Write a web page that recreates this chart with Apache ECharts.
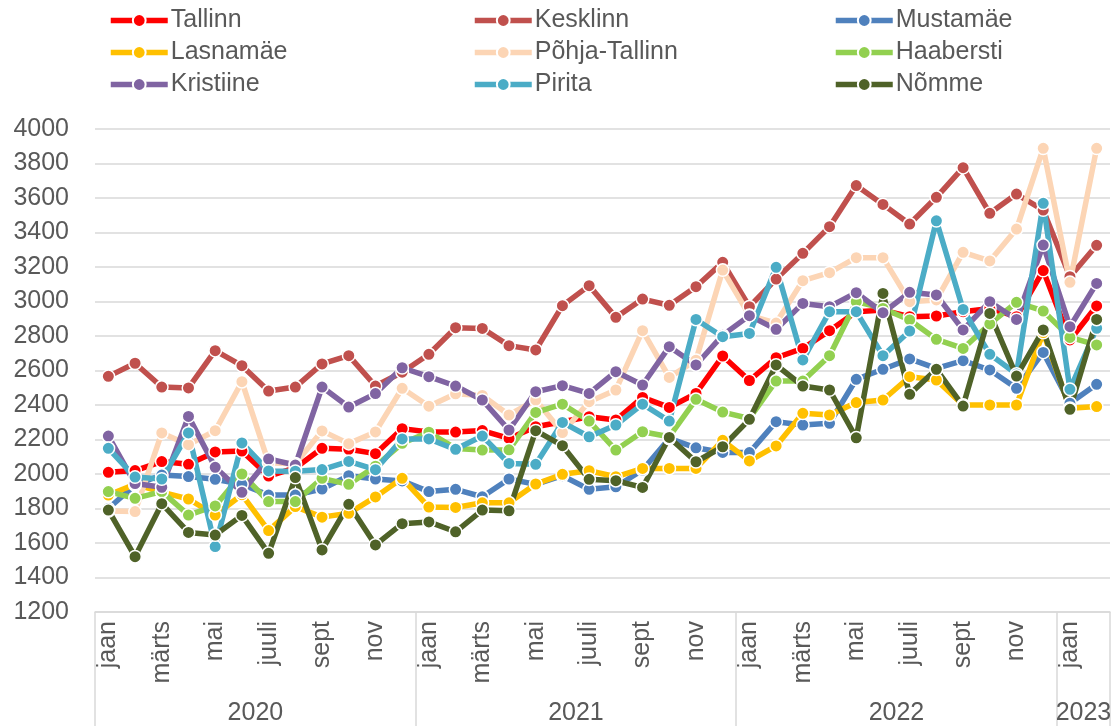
<!DOCTYPE html>
<html>
<head>
<meta charset="utf-8">
<script src="https://cdn.jsdelivr.net/npm/echarts@6/dist/echarts.min.js"></script>
<style>
  html, body { margin: 0; padding: 0; background: #fff; }
  #chart { width: 1120px; height: 726px; }
</style>
</head>
<body>
<div id="chart"></div>
<script>
// month labels per category (jan 2020 .. feb 2023)
const monthNames = ['jaan', 'veebr', 'märts', 'apr', 'mai', 'juuni', 'juuli', 'aug', 'sept', 'okt', 'nov', 'dets']
const yearNames = ['2020', '2021', '2022', '2023']
const monthsPerYear = [12, 12, 12, 2]

const tallinn = [2010, 2020, 2072, 2056, 2128, 2133, 1988, 2035, 2149, 2143, 2118, 2263, 2243, 2243, 2252, 2206, 2274, 2303, 2332, 2313, 2444, 2386, 2467, 2684, 2542, 2674, 2728, 2831, 2941, 2950, 2912, 2916, 2941, 2960, 2912, 3179, 2777, 2974]
const kesklinn = [2566, 2642, 2504, 2499, 2715, 2628, 2481, 2504, 2638, 2686, 2510, 2590, 2694, 2848, 2844, 2744, 2719, 2976, 3092, 2908, 3014, 2978, 3086, 3227, 2970, 3130, 3279, 3434, 3672, 3563, 3449, 3604, 3776, 3511, 3623, 3530, 3144, 3326]
const mustamae = [1800, 1936, 1994, 1985, 1969, 1940, 1878, 1878, 1913, 1990, 1971, 1960, 1898, 1911, 1868, 1971, 1940, 1990, 1911, 1926, 2023, 2206, 2152, 2125, 2124, 2303, 2284, 2294, 2549, 2607, 2667, 2612, 2657, 2603, 2497, 2705, 2410, 2520]
const lasnamae = [1878, 1940, 1895, 1855, 1762, 1880, 1672, 1811, 1750, 1772, 1867, 1975, 1808, 1806, 1833, 1833, 1942, 1998, 2019, 1984, 2032, 2032, 2032, 2195, 2076, 2163, 2352, 2342, 2414, 2429, 2564, 2545, 2400, 2400, 2400, 2820, 2381, 2391]
const pohjaTallinn = [1785, 1782, 2238, 2170, 2251, 2535, 2065, 2060, 2250, 2176, 2244, 2497, 2393, 2465, 2455, 2342, 2429, 2240, 2419, 2487, 2831, 2560, 2660, 3182, 2920, 2875, 3121, 3167, 3254, 3254, 2999, 3009, 3285, 3235, 3420, 3888, 3111, 3888]
const haabersti = [1898, 1859, 1898, 1762, 1815, 2000, 1840, 1840, 1975, 1940, 2045, 2178, 2242, 2148, 2139, 2140, 2357, 2405, 2307, 2139, 2245, 2216, 2433, 2359, 2322, 2539, 2539, 2686, 2999, 2960, 2893, 2781, 2728, 2870, 2995, 2945, 2792, 2748]
const kristiine = [2220, 1945, 1923, 2334, 2039, 1894, 2087, 2052, 2504, 2388, 2466, 2616, 2564, 2510, 2429, 2255, 2477, 2512, 2467, 2593, 2516, 2738, 2632, 2805, 2918, 2839, 2989, 2970, 3051, 2935, 3053, 3038, 2835, 2999, 2896, 3327, 2854, 3105]
const pirita = [2149, 1982, 1971, 2238, 1579, 2180, 2018, 2016, 2026, 2073, 2025, 2203, 2203, 2143, 2220, 2061, 2056, 2299, 2216, 2284, 2405, 2307, 2896, 2796, 2815, 3198, 2661, 2941, 2941, 2686, 2829, 3468, 2954, 2694, 2580, 3569, 2491, 2845]
const nomme = [1791, 1521, 1828, 1661, 1646, 1760, 1540, 1979, 1560, 1824, 1589, 1712, 1722, 1665, 1791, 1787, 2251, 2164, 1969, 1961, 1922, 2212, 2071, 2158, 2317, 2632, 2510, 2487, 2210, 3047, 2462, 2607, 2394, 2931, 2568, 2835, 2375, 2896]

const seriesNames = ['Tallinn', 'Kesklinn', 'Mustamäe', 'Lasnamäe', 'Põhja-Tallinn', 'Haabersti', 'Kristiine', 'Pirita', 'Nõmme']
const seriesData = [tallinn, kesklinn, mustamae, lasnamae, pohjaTallinn, haabersti, kristiine, pirita, nomme]
const colors = ['#FF0000', '#C0504D', '#4F81BD', '#FFC000', '#FCD5B5', '#92D050', '#8064A2', '#4BACC6', '#4F6228']

const months = []
const years = []
yearNames.forEach((y, k) => {
  for (let m = 0; m < monthsPerYear[k]; m++) {
    months.push(monthNames[m])
    years.push(y)
  }
})

// year label sits on the middle of its block, year separators on block starts
const yearStart = []
let acc = 0
monthsPerYear.forEach(n => { yearStart.push(acc); acc += n })
const yearLabelIdx = yearStart.map((s, k) => s + Math.floor((monthsPerYear[k] - 1) / 2))

const font = 'Liberation Sans, Arial, sans-serif'
const textColor = '#595959'
const gridColor = '#D9D9D9'

const chart = echarts.init(document.getElementById('chart'))

const legendCols = [[0, 3, 6], [1, 4, 7], [2, 5, 8]]
const legendLeft = [108, 472, 833]

chart.setOption({
  animation: false,
  color: colors,
  textStyle: { fontFamily: font },
  legend: legendCols.map((col, k) => ({
    orient: 'vertical',
    left: legendLeft[k],
    top: 8,
    padding: 0,
    itemGap: 7,
    itemWidth: 57,
    itemHeight: 16,
    lineStyle: { width: 5.5 },
    data: col.map(i => seriesNames[i]),
    textStyle: { fontSize: 25, color: textColor, fontFamily: font, padding: [0, 0, 0, -2] }
  })),
  grid: {
    left: 95,
    right: 10,
    top: 129,
    bottom: 114
  },
  xAxis: [
    {
      type: 'category',
      data: months,
      boundaryGap: true,
      axisLine: { lineStyle: { color: gridColor, width: 1.5 } },
      axisTick: {
        show: true,
        length: 114,
        interval: (i) => yearStart.includes(i),
        lineStyle: { color: gridColor, width: 1.5 }
      },
      axisLabel: {
        interval: 1,
        rotate: 90,
        margin: 9,
        fontSize: 25,
        color: textColor,
        fontFamily: font
      }
    },
    {
      type: 'category',
      data: years,
      position: 'bottom',
      offset: 0,
      boundaryGap: true,
      axisLine: { show: false },
      axisTick: { show: false },
      axisLabel: {
        interval: (i) => yearLabelIdx.includes(i),
        margin: 89,
        fontSize: 25,
        color: textColor,
        fontFamily: font,
        padding: [0, 0, 0, 27]
      }
    }
  ],
  yAxis: {
    type: 'value',
    min: 1200,
    max: 4000,
    interval: 200,
    axisLine: { show: false },
    axisTick: { show: false },
    splitLine: { lineStyle: { color: gridColor, width: 1.5 } },
    axisLabel: {
      margin: 26,
      fontSize: 25,
      color: textColor,
      fontFamily: font,
      formatter: (v) => String(v)
    }
  },
  series: seriesNames.map((name, i) => ({
    name: name,
    type: 'line',
    data: seriesData[i],
    showAllSymbol: true,
    symbol: 'circle',
    symbolSize: 12.5,
    lineStyle: { width: 5.5, color: colors[i] },
    itemStyle: { color: colors[i], borderColor: '#fff', borderWidth: 1.5 },
    emphasis: { disabled: true }
  }))
})
</script>
</body>
</html>
